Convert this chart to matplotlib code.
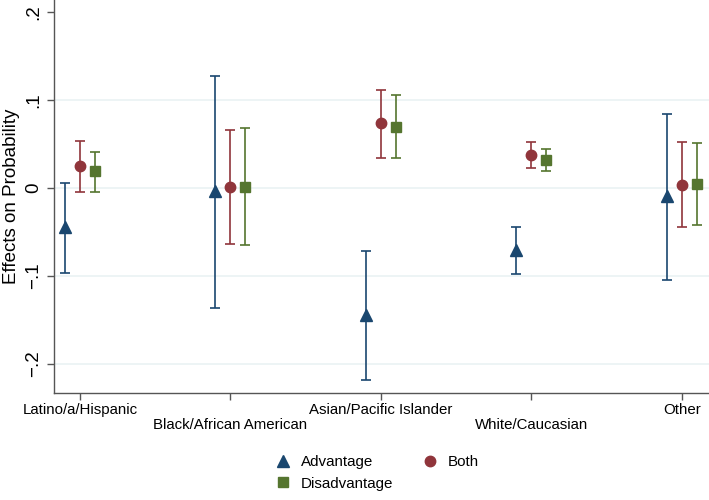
import matplotlib.pyplot as plt
from matplotlib.lines import Line2D

plt.rcParams['font.family'] = ['Liberation Sans', 'DejaVu Sans']

groups = ['Latino/a/Hispanic', 'Black/African American', 'Asian/Pacific Islander',
          'White/Caucasian', 'Other']

# point estimates and 95% CI bounds
adv = [-0.044, -0.003, -0.144, -0.070, -0.009]
adv_lo = [-0.096, -0.136, -0.218, -0.098, -0.104]
adv_hi = [0.006, 0.128, -0.071, -0.044, 0.084]

both = [0.025, 0.001, 0.074, 0.038, 0.004]
both_lo = [-0.004, -0.064, 0.034, 0.023, -0.044]
both_hi = [0.054, 0.066, 0.112, 0.052, 0.052]

dis = [0.019, 0.001, 0.070, 0.032, 0.005]
dis_lo = [-0.004, -0.065, 0.034, 0.020, -0.042]
dis_hi = [0.041, 0.068, 0.106, 0.045, 0.051]

yticks = [-0.2, -0.1, 0, 0.1, 0.2]
ytick_labels = ['\u2212.2', '\u2212.1', '0', '.1', '.2']

navy = '#1a476f'
maroon = '#90353b'
green = '#55752f'

fig = plt.figure(figsize=(7.09, 5.0), dpi=100)
ax = fig.add_axes([0.076, 0.214, 0.924, 0.786])

x = list(range(1, len(groups) + 1))

# grid lines (Stata style)
for yv in [-0.2, -0.1, 0, 0.1]:
    ax.axhline(yv, color='#eaf2f3', lw=1.2, zorder=0)


def draw(series, lo, hi, offset, color, marker, ms):
    xs = [xi + offset for xi in x]
    err = [[s - l for s, l in zip(series, lo)], [h - s for s, h in zip(series, hi)]]
    ax.errorbar(xs, series, yerr=err, fmt='none', ecolor=color, elinewidth=1.2,
                capsize=3.3, capthick=1.2, zorder=2)
    ax.plot(xs, series, linestyle='none', marker=marker, color=color,
            markersize=ms, zorder=3)


draw(adv, adv_lo, adv_hi, -0.1, navy, '^', 8)
draw(both, both_lo, both_hi, 0.0, maroon, 'o', 7.5)
draw(dis, dis_lo, dis_hi, 0.1, green, 's', 7)

ax.set_xlim(0.827, 5.18)
ax.set_ylim(-0.233, 0.214)

ax.set_yticks(yticks)
ax.set_yticklabels(ytick_labels, rotation=90, va='center', fontsize=13.5)
ax.set_ylabel('Effects on Probability', fontsize=13.5, labelpad=4)

# alternating two-row category labels
ax.set_xticks(x)
ax.set_xticklabels(['' for _ in groups])
for i, g in enumerate(groups):
    ax.annotate(g, xy=(x[i], 0), xycoords=('data', 'axes fraction'),
                xytext=(0, -7 if i % 2 == 0 else -18), textcoords='offset points',
                ha='center', va='top', fontsize=10.8)

for side in ['top', 'right']:
    ax.spines[side].set_visible(False)
for side in ['left', 'bottom']:
    ax.spines[side].set_color('#555555')
    ax.spines[side].set_linewidth(1.0)
ax.tick_params(axis='both', direction='out', length=5, color='#555555', width=1.0)

handles = [
    Line2D([], [], linestyle='none', marker='^', color=navy, markersize=8, label='Advantage'),
    Line2D([], [], linestyle='none', marker='s', color=green, markersize=7, label='Disadvantage'),
    Line2D([], [], linestyle='none', marker='o', color=maroon, markersize=7.5, label='Both'),
]
fig.legend(handles=handles, ncol=2, loc='center', bbox_to_anchor=(0.532, 0.054),
           frameon=False, fontsize=10.9, columnspacing=1.9, handletextpad=0.7,
           labelspacing=0.5, handlelength=1.0, borderpad=0)

fig.savefig('out.png', dpi=100, facecolor='white')
